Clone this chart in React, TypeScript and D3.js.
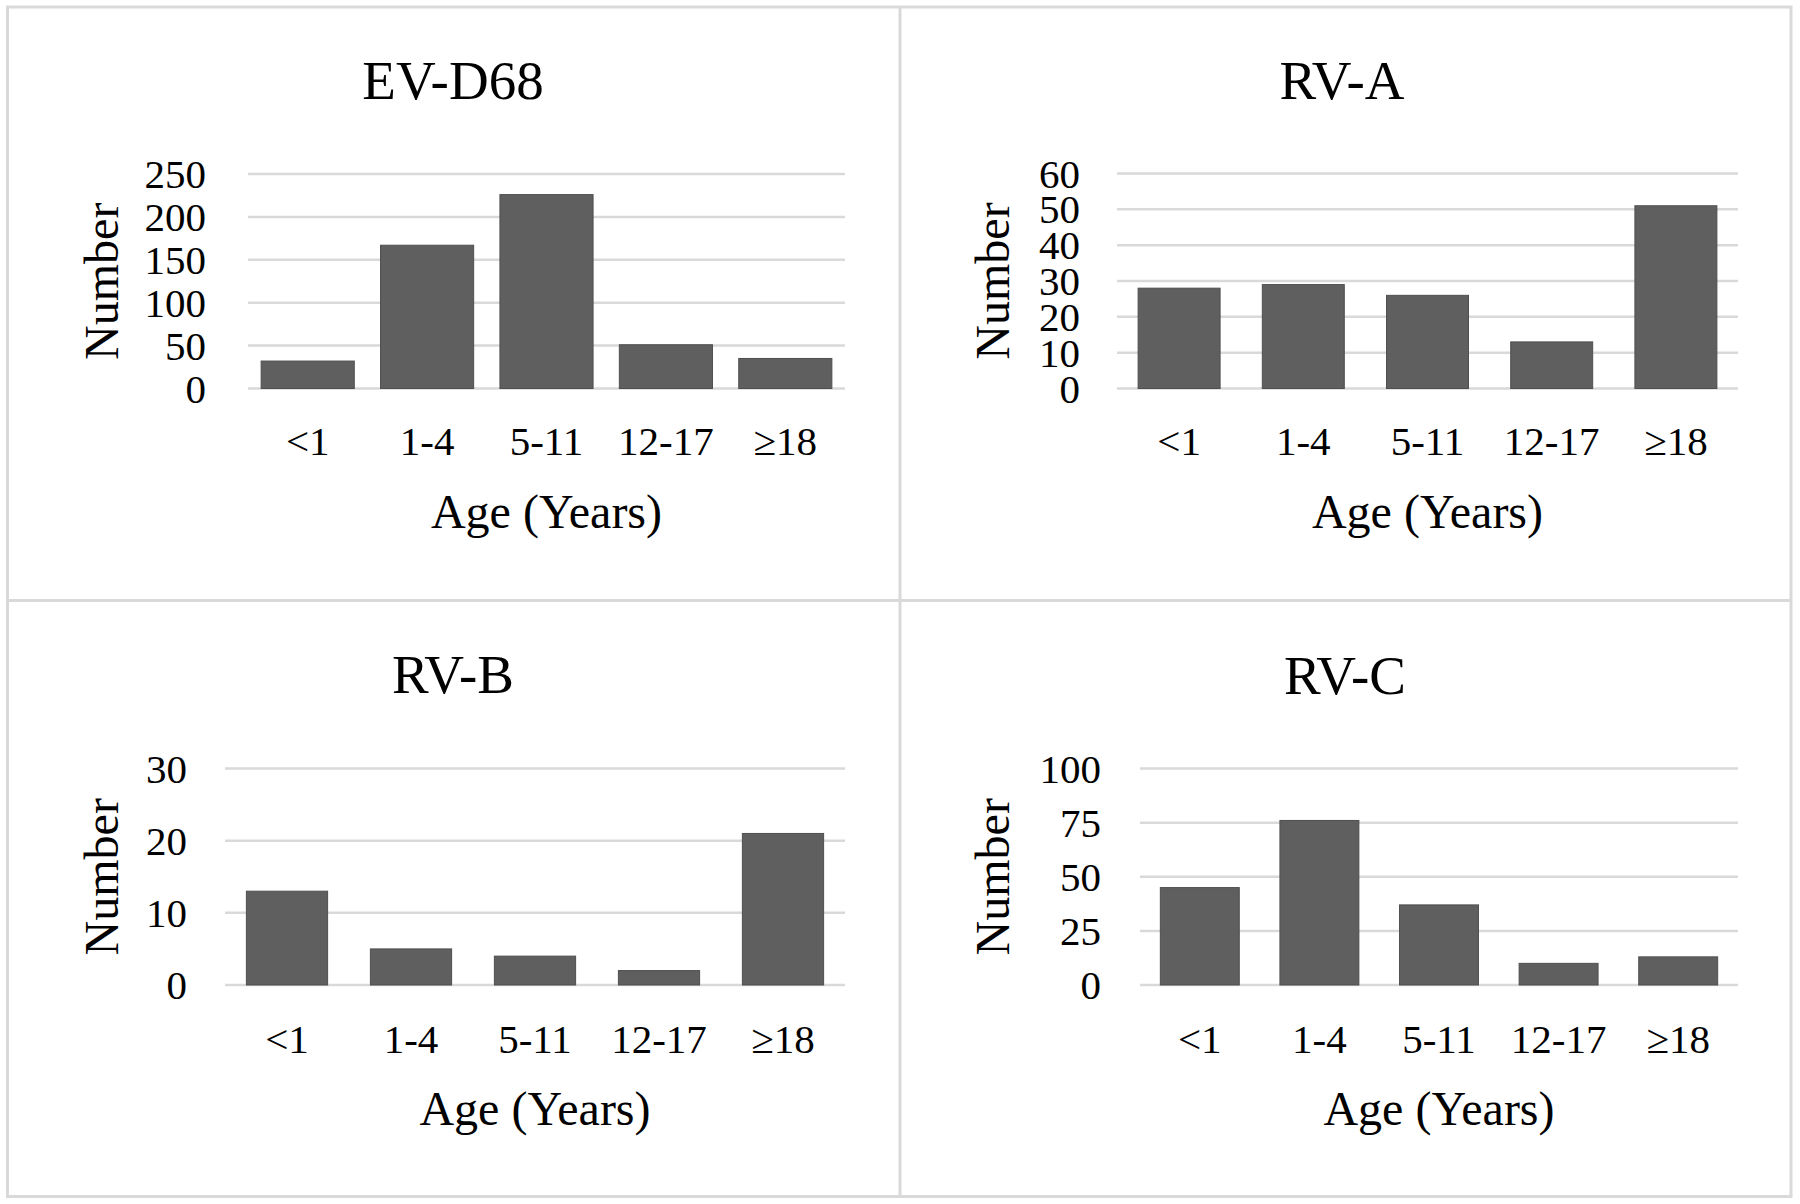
import React from "react";
import * as d3 from "d3";

const categories = ["<1", "1-4", "5-11", "12-17", "≥18"];
const evD68Values = [32, 167, 226, 51, 35];
const rvAValues = [28, 29, 26, 13, 51];
const rvBValues = [13, 5, 4, 2, 21];
const rvCValues = [45, 76, 37, 10, 13];
const evD68Ticks = [0, 50, 100, 150, 200, 250];
const rvATicks = [0, 10, 20, 30, 40, 50, 60];
const rvBTicks = [0, 10, 20, 30];
const rvCTicks = [0, 25, 50, 75, 100];
const titles = ["EV-D68", "RV-A", "RV-B", "RV-C"];

const FONT = "'Liberation Serif', 'Times New Roman', serif";
const GRID = "#d9d9d9";
const BAR = "#5f5f5f";

type PanelLayout = {
  x0: number; x1: number; yTop: number; yBot: number;
  pad: number; titleX: number; titleY: number; tickRight: number;
  yTitleX: number; xTickY: number; xTitleY: number;
};

const layouts: PanelLayout[] = [
  { x0: 248, x1: 845, yTop: 174, yBot: 388.5, pad: 0.22, titleX: 453, titleY: 99, tickRight: 206, yTitleX: 118, xTickY: 455, xTitleY: 528 },
  { x0: 1117, x1: 1738, yTop: 173.5, yBot: 388.5, pad: 0.34, titleX: 1342, titleY: 99, tickRight: 1080, yTitleX: 1009, xTickY: 455, xTitleY: 528 },
  { x0: 225, x1: 845, yTop: 768.5, yBot: 985, pad: 0.345, titleX: 453, titleY: 692.5, tickRight: 187, yTitleX: 118, xTickY: 1052.5, xTitleY: 1124.5 },
  { x0: 1140, x1: 1738, yTop: 768.5, yBot: 985, pad: 0.34, titleX: 1345, titleY: 693.5, tickRight: 1101, yTitleX: 1009, xTickY: 1052.5, xTitleY: 1124.5 },
];

const seriesList = [evD68Values, rvAValues, rvBValues, rvCValues];
const tickList = [evD68Ticks, rvATicks, rvBTicks, rvCTicks];

function Panel({ idx }: { idx: number }) {
  const L = layouts[idx];
  const values = seriesList[idx];
  const ticks = tickList[idx];
  const maxV = ticks[ticks.length - 1];
  const x = d3.scaleBand<string>().domain(categories).range([L.x0, L.x1]).paddingInner(L.pad).paddingOuter(L.pad / 2);
  const y = d3.scaleLinear().domain([0, maxV]).range([L.yBot, L.yTop]);
  const midY = (L.yTop + L.yBot) / 2;
  const midX = (L.x0 + L.x1) / 2;
  return (
    <g>
      <text x={L.titleX} y={L.titleY} textAnchor="middle" fontSize={55} fontFamily={FONT} fill="#000">{titles[idx]}</text>
      {ticks.map((t) => (
        <line key={"g" + t} x1={L.x0} x2={L.x1} y1={y(t)} y2={y(t)} stroke={GRID} strokeWidth={2.5} />
      ))}
      {ticks.map((t) => (
        <text key={"t" + t} x={L.tickRight} y={y(t) + 14} textAnchor="end" fontSize={41} fontFamily={FONT} fill="#000">{t}</text>
      ))}
      {values.map((v, i) => (
        <rect key={i} x={x(categories[i])} y={y(v)} width={x.bandwidth()} height={y(0) - y(v)} fill={BAR} stroke="#4f4f4f" strokeWidth={1} />
      ))}
      {categories.map((c) => (
        <text key={c} x={(x(c) as number) + x.bandwidth() / 2} y={L.xTickY} textAnchor="middle" fontSize={41} fontFamily={FONT} fill="#000">{c}</text>
      ))}
      <text x={midX} y={L.xTitleY} textAnchor="middle" fontSize={48} fontFamily={FONT} fill="#000">Age (Years)</text>
      <text transform={`translate(${L.yTitleX},${midY}) rotate(-90)`} textAnchor="middle" fontSize={48} fontFamily={FONT} fill="#000">Number</text>
    </g>
  );
}

export default function App() {
  return (
    <svg width={1800} height={1204} style={{ position: "absolute", left: 0, top: 0, background: "#fff" }}>
      <rect x={0} y={0} width={1800} height={1204} fill="#fff" />
      <rect x={7.5} y={7} width={1783.5} height={1189.5} fill="none" stroke={GRID} strokeWidth={3} />
      <line x1={900} x2={900} y1={7} y2={1196.5} stroke={GRID} strokeWidth={3} />
      <line x1={7.5} x2={1791} y1={600.5} y2={600.5} stroke={GRID} strokeWidth={3} />
      {[0, 1, 2, 3].map((i) => (
        <Panel key={i} idx={i} />
      ))}
    </svg>
  );
}
